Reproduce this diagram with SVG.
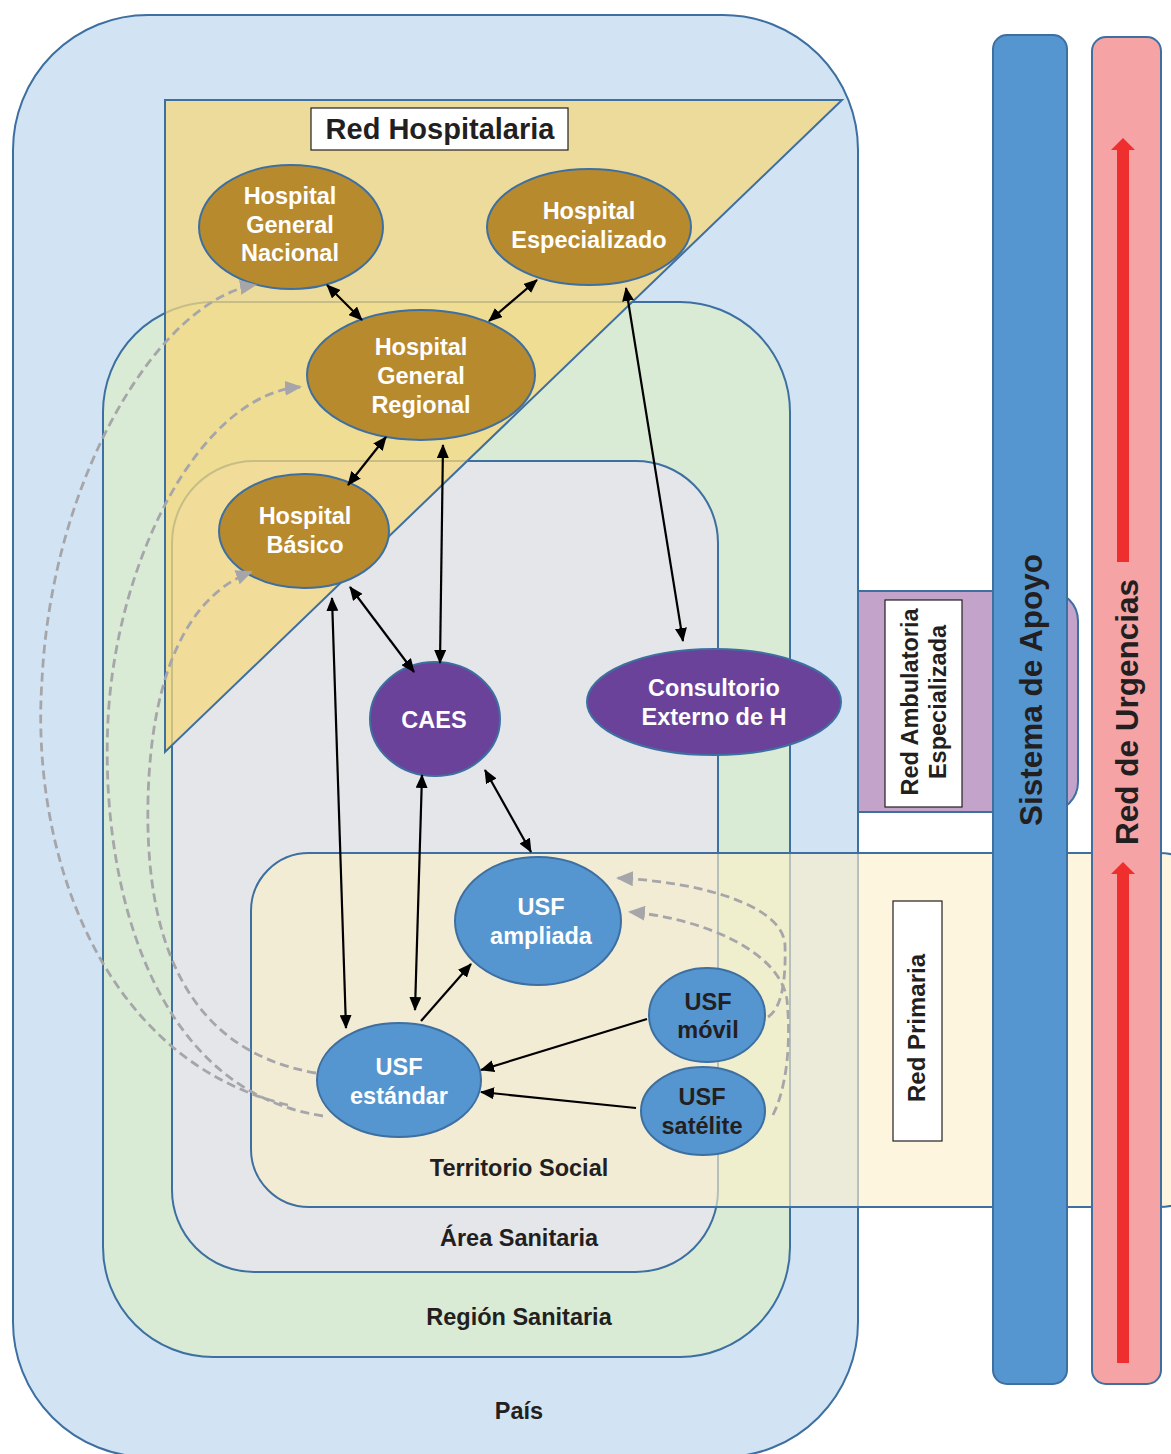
<svg xmlns="http://www.w3.org/2000/svg" width="1171" height="1454" viewBox="0 0 1171 1454">
  <defs>
    <style>
      .zone { stroke: #3d6fa1; stroke-width: 2; }
      .lbl { font-family: "Liberation Sans", Arial, sans-serif; font-weight: bold; fill: #231f20; text-anchor: middle; }
      .nd { font-family: "Liberation Sans", Arial, sans-serif; font-weight: bold; font-size: 23.5px; fill: #ffffff; text-anchor: middle; }
      .nd.dark { fill: #231f20; }
      .hosp { fill: #b88a2e; stroke: #3d6fa1; stroke-width: 2; }
      .amb { fill: #6a4299; stroke: #3d6fa1; stroke-width: 2; }
      .usf { fill: #5595d0; stroke: #3d6fa1; stroke-width: 2; }
      .link { stroke: #000; stroke-width: 2.2; fill: none; }
      .flow { stroke: #a6a6aa; stroke-width: 2.8; stroke-dasharray: 9 5; fill: none; }
    </style>
    <marker id="ah" viewBox="0 0 14 12" markerWidth="14" markerHeight="12" refX="13" refY="6" orient="auto-start-reverse" markerUnits="userSpaceOnUse">
      <path d="M0,0 L14,6 L0,12 z" fill="#000"/>
    </marker>
    <marker id="gh" viewBox="0 0 17 15" markerWidth="17" markerHeight="15" refX="15" refY="7.5" orient="auto" markerUnits="userSpaceOnUse">
      <path d="M0,0 L17,7.5 L0,15 z" fill="#a6a6aa"/>
    </marker>
  </defs>

  <rect width="1171" height="1454" fill="#ffffff"/>

  <!-- territorial zones -->
  <g id="red-ambulatoria">
    <rect class="zone" x="800" y="591" width="278" height="221" rx="30" fill="#c4a3cb"/>
  </g>
  <g id="pais">
    <rect class="zone" x="13" y="15" width="845" height="1442" rx="135" fill="#d2e4f3"/>
  </g>
  <g id="region-sanitaria">
    <rect class="zone" x="103" y="302" width="687" height="1055" rx="110" fill="#d9ebd4"/>
  </g>
  <g id="area-sanitaria">
    <rect class="zone" x="172" y="461" width="546" height="811" rx="82" fill="#e4e6e9"/>
  </g>
  <g id="red-hospitalaria">
    <polygon class="zone" points="165,100 842,100 165,752" fill="#f6d87e" fill-opacity="0.75"/>
  </g>
  <g id="red-primaria">
    <rect class="zone" x="251" y="853" width="966" height="354" rx="58" fill="#fcefc9" fill-opacity="0.63"/>
  </g>
  <g id="sistema-apoyo">
    <rect class="zone" x="993" y="35" width="74" height="1349" rx="14" fill="#5595d0"/>
    <text class="lbl" font-size="31.5" transform="translate(1031,690) rotate(-90)" dominant-baseline="central">Sistema de Apoyo</text>
  </g>
  <g id="red-urgencias">
    <rect class="zone" x="1092" y="37" width="69" height="1347" rx="14" fill="#f6a3a6"/>
    <g fill="#ee2f2e">
      <rect x="1117" y="149" width="12" height="413"/>
      <polygon points="1111,150 1123,138 1135,150"/>
      <rect x="1117" y="873" width="12" height="490"/>
      <polygon points="1111,874 1123,862 1135,874"/>
    </g>
    <text class="lbl" font-size="31.5" transform="translate(1127,712) rotate(-90)" dominant-baseline="central">Red de Urgencias</text>
  </g>

  <!-- network labels -->
  <g id="label-hospitalaria">
    <rect x="311" y="108" width="257" height="42" fill="#ffffff" stroke="#231f20" stroke-width="1.2"/>
    <text class="lbl" font-size="29" x="440" y="139">Red Hospitalaria</text>
  </g>
  <g id="label-ambulatoria">
    <rect x="885" y="600" width="77" height="207" fill="#ffffff" stroke="#231f20" stroke-width="1.2"/>
    <text class="lbl" font-size="23.5" transform="translate(910,702) rotate(-90)" dominant-baseline="central">Red Ambulatoria</text>
    <text class="lbl" font-size="23.5" transform="translate(938,702) rotate(-90)" dominant-baseline="central">Especializada</text>
  </g>
  <g id="label-primaria">
    <rect x="893" y="901" width="49" height="240" fill="#ffffff" stroke="#231f20" stroke-width="1.2"/>
    <text class="lbl" font-size="24" transform="translate(916,1028) rotate(-90)" dominant-baseline="central">Red Primaria</text>
  </g>
  <g id="zone-labels">
    <text class="lbl" font-size="23.5" x="519" y="1176">Territorio Social</text>
    <text class="lbl" font-size="23.5" x="519" y="1246">Área Sanitaria</text>
    <text class="lbl" font-size="23.5" x="519" y="1325">Región Sanitaria</text>
    <text class="lbl" font-size="23.5" x="519" y="1419">País</text>
  </g>

  <!-- facilities -->
  <g id="hospital-general-nacional">
    <ellipse class="hosp" cx="291" cy="227" rx="92" ry="62"/>
    <text class="nd" x="290" y="204">Hospital</text>
    <text class="nd" x="290" y="233">General</text>
    <text class="nd" x="290" y="261">Nacional</text>
  </g>
  <g id="hospital-especializado">
    <ellipse class="hosp" cx="589" cy="227" rx="102" ry="58"/>
    <text class="nd" x="589" y="219">Hospital</text>
    <text class="nd" x="589" y="248">Especializado</text>
  </g>
  <g id="hospital-general-regional">
    <ellipse class="hosp" cx="421" cy="375" rx="114" ry="65"/>
    <text class="nd" x="421" y="355">Hospital</text>
    <text class="nd" x="421" y="384">General</text>
    <text class="nd" x="421" y="413">Regional</text>
  </g>
  <g id="hospital-basico">
    <ellipse class="hosp" cx="304" cy="531" rx="85" ry="57"/>
    <text class="nd" x="305" y="524">Hospital</text>
    <text class="nd" x="305" y="553">Básico</text>
  </g>
  <g id="caes">
    <ellipse class="amb" cx="435" cy="719" rx="65" ry="57"/>
    <text class="nd" x="434" y="728">CAES</text>
  </g>
  <g id="consultorio-externo">
    <ellipse class="amb" cx="714" cy="702" rx="127" ry="53"/>
    <text class="nd" x="714" y="696">Consultorio</text>
    <text class="nd" x="714" y="725">Externo de H</text>
  </g>
  <g id="usf-ampliada">
    <ellipse class="usf" cx="538" cy="921" rx="83" ry="64"/>
    <text class="nd" x="541" y="915">USF</text>
    <text class="nd" x="541" y="944">ampliada</text>
  </g>
  <g id="usf-estandar">
    <ellipse class="usf" cx="399" cy="1080" rx="82" ry="57"/>
    <text class="nd" x="399" y="1075">USF</text>
    <text class="nd" x="399" y="1104">estándar</text>
  </g>
  <g id="usf-movil">
    <ellipse class="usf" cx="707" cy="1015" rx="58" ry="47"/>
    <text class="nd dark" x="708" y="1010">USF</text>
    <text class="nd dark" x="708" y="1038">móvil</text>
  </g>
  <g id="usf-satelite">
    <ellipse class="usf" cx="703" cy="1111" rx="62" ry="44"/>
    <text class="nd dark" x="702" y="1105">USF</text>
    <text class="nd dark" x="702" y="1134">satélite</text>
  </g>

  <!-- connectors -->
  <g id="connectors">
    <line class="link" x1="327" y1="285" x2="362" y2="320" marker-start="url(#ah)" marker-end="url(#ah)"/>
    <line class="link" x1="537" y1="280" x2="489" y2="321" marker-start="url(#ah)" marker-end="url(#ah)"/>
    <line class="link" x1="386" y1="437" x2="348" y2="485" marker-start="url(#ah)" marker-end="url(#ah)"/>
    <line class="link" x1="443" y1="445" x2="440" y2="663" marker-start="url(#ah)" marker-end="url(#ah)"/>
    <line class="link" x1="626" y1="288" x2="683" y2="641" marker-start="url(#ah)" marker-end="url(#ah)"/>
    <line class="link" x1="350" y1="587" x2="414" y2="672" marker-start="url(#ah)" marker-end="url(#ah)"/>
    <line class="link" x1="332" y1="598" x2="346" y2="1028" marker-start="url(#ah)" marker-end="url(#ah)"/>
    <line class="link" x1="422" y1="775" x2="415" y2="1010" marker-start="url(#ah)" marker-end="url(#ah)"/>
    <line class="link" x1="485" y1="770" x2="531" y2="852" marker-start="url(#ah)" marker-end="url(#ah)"/>
    <line class="link" x1="421" y1="1021" x2="471" y2="964" marker-end="url(#ah)"/>
    <line class="link" x1="647" y1="1019" x2="481" y2="1070" marker-end="url(#ah)"/>
    <line class="link" x1="636" y1="1108" x2="481" y2="1092" marker-end="url(#ah)"/>

    <path class="flow" d="M288,1105 C100,1060 30,850 42,680 C52,476 160,300 255,285" marker-end="url(#gh)"/>
    <path class="flow" d="M323,1116 C150,1090 100,880 108,720 C116,560 200,395 300,387" marker-end="url(#gh)"/>
    <path class="flow" d="M316,1073 C180,1050 145,930 148,800 C151,670 190,595 251,572" marker-end="url(#gh)"/>
    <path class="flow" d="M768,1017 C782,1008 786,980 785,945 C783,905 700,882 618,878" marker-end="url(#gh)"/>
    <path class="flow" d="M773,1115 C790,1080 790,1030 787,1000 C780,950 700,918 630,912" marker-end="url(#gh)"/>
  </g>
</svg>
